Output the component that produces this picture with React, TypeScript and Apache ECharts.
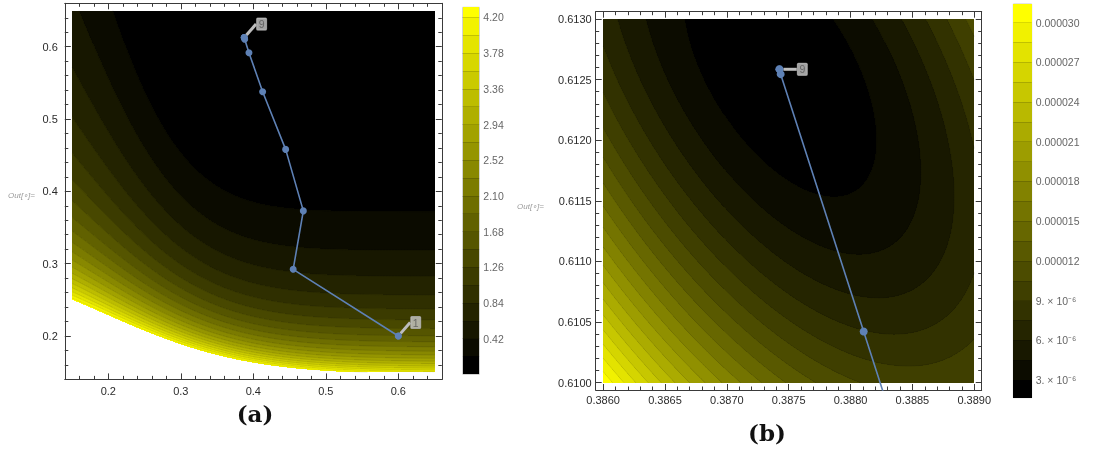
import React, { useEffect, useRef } from "react";
import * as echarts from "echarts";

// Iterates of the descent path, 1 -> 9
const pathX = [0.6, 0.455, 0.469, 0.4446, 0.4129, 0.394, 0.388106, 0.387435, 0.387425];
const pathY = [0.2, 0.2922, 0.373, 0.458, 0.5378, 0.5917, 0.610423, 0.612545, 0.612585];

// Panel (a): wide view
const viewAX = [0.15, 0.65];
const viewAY = [0.15, 0.65];
const frameAX = [0.14, 0.66];
const frameAY = [0.14, 0.66];
const ticksA = [0.2, 0.3, 0.4, 0.5, 0.6];
const minorStepA = 0.02;
const contourStepA = 0.21;
const contourCountA = 20;
const rangeA = [0, 4.32];
const legendTicksA = [0.42, 0.84, 1.26, 1.68, 2.1, 2.52, 2.94, 3.36, 3.78, 4.2];

// Panel (b): close-up around the minimum
const viewBX = [0.386, 0.389];
const viewBY = [0.61, 0.613];
const frameBX = [0.38594, 0.38906];
const frameBY = [0.60994, 0.61306];
const ticksBX = [0.386, 0.3865, 0.387, 0.3875, 0.388, 0.3885, 0.389];
const ticksBY = [0.61, 0.6105, 0.611, 0.6115, 0.612, 0.6125, 0.613];
const minorStepB = 0.0001;
const contourStartB = 3e-6;
const contourStepB = 1.5e-6;
const contourCountB = 19;
const rangeB = [1.67e-6, 3.14e-5];
const legendTicksB = [3e-6, 6e-6, 9e-6, 1.2e-5, 1.5e-5, 1.8e-5, 2.1e-5, 2.4e-5, 2.7e-5, 3e-5];

// Objective, wide view: level sets are the curves y = z(1 + A(z) exp(-B(z) x^2)),
// and the objective on the curve of parameter z is gScale/(z - zPole) - gShift.
const zPole = 0.1;
const gScale = 0.2322;
const gShift = 0.6437;
const shapeRef = 0.146;
const shapeA = [0.949, 4.0, 8.0];
const shapeB = [13.5, 55.3];

// Objective, close-up: bowl around the minimum, p dx^2 + 2q dx dy + r dy^2 + c (-(dx+dy))^3
const minAt = [0.38743, 0.61258];
const minValue = 1.67e-6;
const bowl = [3.15, 1.3, 1.75];
const bowlCubic = 30;

const PATH_COLOR = "#5e81b5";
const FRAME_COLOR = "#3a3a3a";
const GAMMA = 1.05;

function levelHeight(x: number, z: number) {
  const d = z - shapeRef;
  const A = shapeA[0] + shapeA[1] * d + shapeA[2] * d * d;
  const B = shapeB[0] + shapeB[1] * d;
  return z * (1 + A * Math.exp(-B * x * x));
}

function surfaceA(x: number, y: number) {
  let lo = 0.02;
  let hi = 1.5;
  for (let k = 0; k < 40; k++) {
    const mid = (lo + hi) / 2;
    if (levelHeight(x, mid) < y) lo = mid;
    else hi = mid;
  }
  const z = (lo + hi) / 2;
  if (z <= zPole) return Infinity;
  return Math.max(0, gScale / (z - zPole) - gShift);
}

function surfaceB(x: number, y: number) {
  const dx = x - minAt[0];
  const dy = y - minAt[1];
  const g = -(dx + dy);
  return minValue + bowl[0] * dx * dx + 2 * bowl[1] * dx * dy + bowl[2] * dy * dy + bowlCubic * g * g * g;
}

function levelList(start: number, step: number, count: number) {
  const a: number[] = [];
  for (let k = 0; k < count; k++) a.push(+(start + k * step).toPrecision(10));
  return a;
}

const levelsA = levelList(contourStepA, contourStepA, contourCountA);
const levelsB = levelList(contourStartB, contourStepB, contourCountB);

function bandColor(b: number, n: number) {
  const t = b / (n - 1);
  const c = Math.round(255 * Math.pow(t, GAMMA));
  return `rgb(${c},${c},0)`;
}
const colorsA = Array.from({ length: levelsA.length + 1 }, (_, b) => bandColor(b, levelsA.length + 1));
const colorsB = Array.from({ length: levelsB.length + 1 }, (_, b) => bandColor(b, levelsB.length + 1));

function bandOf(v: number, levels: number[], vmax: number) {
  if (!(v <= vmax)) return -1;
  let b = 0;
  while (b < levels.length && v >= levels[b]) b++;
  return b;
}

type Row = { y0: number; y1: number; runs: number[][] };

// Each row of the view split into runs of constant band
function buildRows(f: (x: number, y: number) => number, xr: number[], yr: number[], nx: number, ny: number, levels: number[], vmax: number) {
  const rows: Row[] = [];
  const dx = (xr[1] - xr[0]) / nx;
  const dy = (yr[1] - yr[0]) / ny;
  for (let j = 0; j < ny; j++) {
    const y0 = yr[0] + j * dy;
    const yc = y0 + dy / 2;
    const runs: number[][] = [];
    let cur = -2;
    let start = 0;
    for (let i = 0; i <= nx; i++) {
      let b = -2;
      if (i < nx) b = bandOf(f(xr[0] + (i + 0.5) * dx, yc), levels, vmax);
      if (b !== cur) {
        if (cur >= 0) runs.push([xr[0] + start * dx, xr[0] + i * dx, cur]);
        cur = b;
        start = i;
      }
    }
    rows.push({ y0, y1: j === ny - 1 ? yr[1] : yr[0] + (j + 1) * dy, runs });
  }
  return rows;
}

// Marching squares, segments chained into polylines
function traceContours(f: (x: number, y: number) => number, xr: number[], yr: number[], n: number, levels: number[], cap: number) {
  const W = n + 1;
  const gx = (i: number) => xr[0] + ((xr[1] - xr[0]) * i) / n;
  const gy = (j: number) => yr[0] + ((yr[1] - yr[0]) * j) / n;
  const V = new Float64Array(W * W);
  for (let j = 0; j <= n; j++)
    for (let i = 0; i <= n; i++) {
      let v = f(gx(i), gy(j));
      if (!isFinite(v) || v > cap) v = cap;
      V[j * W + i] = v;
    }
  const result: { coords: number[][] }[] = [];
  for (const L of levels) {
    const segs: [string, number[]][][] = [];
    const interp = (i0: number, j0: number, i1: number, j1: number) => {
      const a = V[j0 * W + i0];
      const b = V[j1 * W + i1];
      const t = (L - a) / (b - a);
      return [gx(i0) + (gx(i1) - gx(i0)) * t, gy(j0) + (gy(j1) - gy(j0)) * t];
    };
    for (let j = 0; j < n; j++)
      for (let i = 0; i < n; i++) {
        const v00 = V[j * W + i] >= L;
        const v10 = V[j * W + i + 1] >= L;
        const v01 = V[(j + 1) * W + i] >= L;
        const v11 = V[(j + 1) * W + i + 1] >= L;
        if (v00 === v10 && v10 === v01 && v01 === v11) continue;
        const pts: [string, number[]][] = [];
        if (v00 !== v10) pts.push([`h${i},${j}`, interp(i, j, i + 1, j)]);
        if (v10 !== v11) pts.push([`v${i + 1},${j}`, interp(i + 1, j, i + 1, j + 1)]);
        if (v01 !== v11) pts.push([`h${i},${j + 1}`, interp(i, j + 1, i + 1, j + 1)]);
        if (v00 !== v01) pts.push([`v${i},${j}`, interp(i, j, i, j + 1)]);
        if (pts.length === 2) segs.push([pts[0], pts[1]]);
        else if (pts.length === 4) {
          const c = (V[j * W + i] + V[j * W + i + 1] + V[(j + 1) * W + i] + V[(j + 1) * W + i + 1]) / 4;
          if ((c >= L) === v00) {
            segs.push([pts[0], pts[1]]);
            segs.push([pts[2], pts[3]]);
          } else {
            segs.push([pts[0], pts[3]]);
            segs.push([pts[1], pts[2]]);
          }
        }
      }
    const byKey = new Map<string, number[]>();
    segs.forEach((s, idx) => {
      for (const e of s) {
        const arr = byKey.get(e[0]);
        if (arr) arr.push(idx);
        else byKey.set(e[0], [idx]);
      }
    });
    const used = new Uint8Array(segs.length);
    for (let s = 0; s < segs.length; s++) {
      if (used[s]) continue;
      used[s] = 1;
      const line = [segs[s][0][1], segs[s][1][1]];
      for (const dir of [1, -1]) {
        let key = dir === 1 ? segs[s][1][0] : segs[s][0][0];
        for (;;) {
          const cand = (byKey.get(key) || []).find((k) => !used[k]);
          if (cand === undefined) break;
          used[cand] = 1;
          const seg = segs[cand];
          const other = seg[0][0] === key ? seg[1] : seg[0];
          if (dir === 1) line.push(other[1]);
          else line.unshift(other[1]);
          key = other[0];
        }
      }
      result.push({ coords: line });
    }
  }
  return result;
}

function minorList(ext: number[], step: number, major: number[]) {
  const out: number[] = [];
  const k0 = Math.ceil(ext[0] / step - 1e-6);
  const k1 = Math.floor(ext[1] / step + 1e-6);
  for (let k = k0; k <= k1; k++) {
    const v = +(k * step).toPrecision(10);
    if (!major.some((m) => Math.abs(m - v) < step * 1e-3)) out.push(v);
  }
  return out;
}

function frameAxes(dim: "x" | "y", grid: number, ext: number[], major: number[], minor: number[], fmt: (v: number) => string, margin: number) {
  const pos = dim === "x" ? ["bottom", "top"] : ["left", "right"];
  const mk = (position: string, values: number[], len: number, label: boolean, line: boolean) => ({
    type: "value",
    gridIndex: grid,
    position,
    min: ext[0],
    max: ext[1],
    splitLine: { show: false },
    axisLine: { show: line, onZero: false, lineStyle: { color: FRAME_COLOR, width: 1 } },
    axisTick: { show: true, inside: true, length: len, customValues: values, lineStyle: { color: FRAME_COLOR, width: 1 } },
    axisLabel: label
      ? { show: true, customValues: major, formatter: fmt, margin, color: "#2b2b2b", fontSize: 11, fontFamily: "Liberation Sans" }
      : { show: false },
  });
  return [mk(pos[0], major, 6, true, true), mk(pos[0], minor, 3.5, false, false), mk(pos[1], major, 6, false, true), mk(pos[1], minor, 3.5, false, false)];
}

function legendBands(range: number[], levels: number[]) {
  const bounds = [range[0], ...levels, range[1]];
  return bounds.slice(0, -1).map((lo, b) => [lo, bounds[b + 1], b]);
}

const calloutLabel = {
  show: true,
  position: "right",
  backgroundColor: "#cbcbcb",
  borderColor: "#9c9c9c",
  borderWidth: 0.6,
  borderRadius: 1,
  padding: [1, 2, 0, 2],
  color: "#555",
  fontSize: 10.5,
  fontFamily: "Liberation Sans",
};

export default function App() {
  const ref = useRef<HTMLDivElement>(null);

  useEffect(() => {
    if (!ref.current) return;
    const chart = echarts.init(ref.current, undefined, { renderer: "svg" });

    const rowsA = buildRows(surfaceA, viewAX, viewAY, 725, 362, levelsA, rangeA[1]);
    const rowsB = buildRows(surfaceB, viewBX, viewBY, 740, 364, levelsB, Infinity);
    const linesA = traceContours(surfaceA, viewAX, viewAY, 240, levelsA, 100);
    const linesB = traceContours(surfaceB, viewBX, viewBY, 220, levelsB, 1);

    const path = pathX.map((x, i) => [x, pathY[i]]);

    // one data item per row; its runs become pixel-aligned rects
    const rowRender = (rows: Row[], colors: string[]) => (params: any, api: any) => {
      const row = rows[api.value(2)];
      const top = Math.round(api.coord([0, row.y1])[1] ?? 0);
      const bottom = Math.round(api.coord([0, row.y0])[1] ?? 0);
      const children: any[] = [];
      if (bottom > top) {
        for (const r of row.runs) {
          const x0 = Math.round(api.coord([r[0], row.y0])[0]);
          const x1 = Math.round(api.coord([r[1], row.y0])[0]);
          if (x1 <= x0) continue;
          children.push({
            type: "rect",
            shape: { x: x0, y: top, width: x1 - x0, height: bottom - top },
            style: { fill: colors[r[2]] },
          });
        }
      }
      return { type: "group", children };
    };
    const legendRender = (colors: string[]) => (params: any, api: any) => {
      const a = api.coord([0, api.value(1)]);
      const b = api.coord([1, api.value(0)]);
      const top = Math.round(a[1]);
      const bottom = Math.round(b[1]);
      return {
        type: "rect",
        shape: { x: Math.round(a[0]), y: top, width: Math.round(b[0]) - Math.round(a[0]), height: bottom - top },
        style: { fill: colors[api.value(2)] },
      };
    };

    const fmtB = (v: number) => (v >= 1e-5 ? v.toFixed(6) : `${Math.round(v * 1e6)}. × 10⁻⁶`);

    chart.setOption({
      animation: false,
      grid: [
        { left: 64.8, top: 3.3, width: 377, height: 376.1 },
        { left: 595.7, top: 11.7, width: 386, height: 378.3 },
        { left: 462.7, top: 7.3, width: 16.6, height: 367, show: true, borderColor: "#c8c8c8", borderWidth: 1 },
        { left: 1013.3, top: 4, width: 18.4, height: 393.7, show: true, borderColor: "#c8c8c8", borderWidth: 1 },
      ],
      xAxis: [
        ...frameAxes("x", 0, frameAX, ticksA, minorList(frameAX, minorStepA, ticksA), (v) => v.toFixed(1), 6),
        ...frameAxes("x", 1, frameBX, ticksBX, minorList(frameBX, minorStepB, ticksBX), (v) => v.toFixed(4), 4),
        { type: "value", gridIndex: 2, min: 0, max: 1, show: false },
        { type: "value", gridIndex: 3, min: 0, max: 1, show: false },
      ],
      yAxis: [
        ...frameAxes("y", 0, frameAY, ticksA, minorList(frameAY, minorStepA, ticksA), (v) => v.toFixed(1), 7),
        ...frameAxes("y", 1, frameBY, ticksBY, minorList(frameBY, minorStepB, ticksBY), (v) => v.toFixed(4), 4),
        {
          type: "value", gridIndex: 2, position: "right", min: rangeA[0], max: rangeA[1],
          splitLine: { show: false }, axisLine: { show: false },
          axisTick: { show: true, inside: false, length: 3, customValues: legendTicksA, lineStyle: { color: "#999" } },
          axisLabel: { customValues: legendTicksA, formatter: (v: number) => v.toFixed(2), color: "#666", fontSize: 10.5, fontFamily: "Liberation Sans", margin: 4 },
        },
        {
          type: "value", gridIndex: 3, position: "right", min: rangeB[0], max: rangeB[1],
          splitLine: { show: false }, axisLine: { show: false },
          axisTick: { show: true, inside: false, length: 3, customValues: legendTicksB, lineStyle: { color: "#999" } },
          axisLabel: { customValues: legendTicksB, formatter: fmtB, color: "#666", fontSize: 10.5, fontFamily: "Liberation Sans", margin: 4 },
        },
      ],
      series: [
        {
          type: "custom", xAxisIndex: 0, yAxisIndex: 0, data: rowsA.map((r, j) => [r.y0, r.y1, j]), encode: { y: [0, 1] },
          renderItem: rowRender(rowsA, colorsA), silent: true, clip: true, z: 1,
        },
        {
          type: "lines", coordinateSystem: "cartesian2d", xAxisIndex: 0, yAxisIndex: 0, polyline: true, data: linesA,
          lineStyle: { color: "rgba(0,0,0,0.32)", width: 0.7 }, silent: true, z: 2,
        },
        {
          type: "line", xAxisIndex: 0, yAxisIndex: 0, data: path, symbol: "circle", symbolSize: 7,
          itemStyle: { color: PATH_COLOR }, lineStyle: { color: PATH_COLOR, width: 1.6 }, z: 3,
        },
        {
          type: "scatter", xAxisIndex: 0, yAxisIndex: 0, symbolSize: 7, itemStyle: { color: PATH_COLOR }, z: 4,
          data: [
            { value: path[0], label: { formatter: "1" } },
            { value: path[8], label: { formatter: "9" } },
          ],
          label: calloutLabel,
          labelLayout: { dx: 4, dy: -13.5 },
          labelLine: { show: true, smooth: 0.5, lineStyle: { color: "#bdbdbd", width: 3 } },
        },
        {
          type: "custom", xAxisIndex: 4, yAxisIndex: 4, data: rowsB.map((r, j) => [r.y0, r.y1, j]), encode: { y: [0, 1] },
          renderItem: rowRender(rowsB, colorsB), silent: true, clip: true, z: 1,
        },
        {
          type: "lines", coordinateSystem: "cartesian2d", xAxisIndex: 4, yAxisIndex: 4, polyline: true, data: linesB,
          lineStyle: { color: "rgba(0,0,0,0.32)", width: 0.7 }, silent: true, z: 2,
        },
        {
          type: "line", xAxisIndex: 4, yAxisIndex: 4, data: path, symbol: "circle", symbolSize: 8, clip: true,
          itemStyle: { color: PATH_COLOR }, lineStyle: { color: PATH_COLOR, width: 1.6 }, z: 3,
        },
        {
          type: "scatter", xAxisIndex: 4, yAxisIndex: 4, symbolSize: 8, itemStyle: { color: PATH_COLOR }, z: 4,
          data: [{ value: path[8], label: { formatter: "9" } }],
          label: calloutLabel,
          labelLayout: { dx: 9, dy: 0 },
          labelLine: { show: true, lineStyle: { color: "#bdbdbd", width: 3 } },
        },
        {
          type: "custom", xAxisIndex: 8, yAxisIndex: 8, data: legendBands(rangeA, levelsA),
          renderItem: legendRender(colorsA), silent: true, z: 1,
        },
        {
          type: "lines", coordinateSystem: "cartesian2d", xAxisIndex: 8, yAxisIndex: 8, silent: true, z: 2,
          data: levelsA.map((L) => ({ coords: [[0, L], [1, L]] })),
          lineStyle: { color: "rgba(0,0,0,0.3)", width: 1 },
        },
        {
          type: "custom", xAxisIndex: 9, yAxisIndex: 9, data: legendBands(rangeB, levelsB),
          renderItem: legendRender(colorsB), silent: true, z: 1,
        },
        {
          type: "lines", coordinateSystem: "cartesian2d", xAxisIndex: 9, yAxisIndex: 9, silent: true, z: 2,
          data: levelsB.map((L) => ({ coords: [[0, L], [1, L]] })),
          lineStyle: { color: "rgba(0,0,0,0.3)", width: 1 },
        },
      ],
      graphic: [
        { type: "text", left: 8, top: 191, style: { text: "Out[∘]=", fill: "#9a9a9a", font: 'italic 8px "Liberation Sans"' } },
        { type: "text", left: 517, top: 202, style: { text: "Out[∘]=", fill: "#9a9a9a", font: 'italic 8px "Liberation Sans"' } },
        { type: "text", x: 255, y: 413, style: { text: "(a)", font: 'bold 23px "DejaVu Serif"', align: "center", verticalAlign: "middle", fill: "#111" } },
        { type: "text", x: 767, y: 432, style: { text: "(b)", font: 'bold 23px "DejaVu Serif"', align: "center", verticalAlign: "middle", fill: "#111" } },
      ],
    });

    return () => chart.dispose();
  }, []);

  return <div ref={ref} style={{ position: "fixed", left: 0, top: 0, width: 1095, height: 451 }} />;
}
